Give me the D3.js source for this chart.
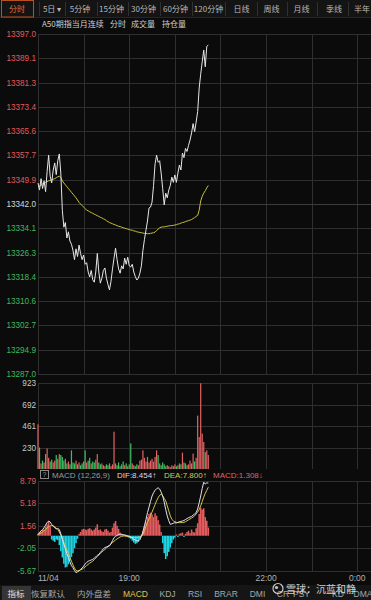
<!DOCTYPE html>
<html><head><meta charset="utf-8">
<script src="https://cdn.jsdelivr.net/npm/d3@7"></script>
<style>html,body{margin:0;padding:0;background:#0b0b0b;overflow:hidden}</style>
</head><body>
<svg id="c" width="371" height="600"></svg>
<script>
// ---------- DATA ----------
const minuteStep = 2; // each point = 2 minutes from 17:00
const price = [
13348.8,13346.5,13350.2,13347.0,13349.5,13346.0,13352.5,13357.8,13351.0,13348.8,
13353.0,13355.3,13351.5,13356.0,13358.2,13352.0,13340.0,13334.5,13336.0,13331.0,
13333.0,13330.0,13329.0,13327.0,13324.0,13327.5,13325.0,13328.7,13326.0,13324.0,
13325.5,13322.5,13323.0,13320.0,13318.4,13320.5,13317.5,13316.7,13320.0,13326.0,
13320.0,13316.4,13318.0,13320.5,13321.3,13318.0,13316.0,13314.2,13317.0,13321.0,
13324.5,13327.7,13324.0,13321.0,13319.6,13322.0,13321.0,13324.5,13322.5,13324.8,
13322.0,13321.6,13322.5,13320.0,13318.5,13317.4,13318.0,13319.6,13322.0,13327.0,
13330.5,13333.5,13336.5,13340.7,13341.0,13342.6,13348.0,13355.0,13357.8,13355.5,
13356.0,13352.0,13347.0,13341.7,13345.5,13344.0,13346.5,13348.0,13350.7,13349.0,
13351.4,13349.0,13352.0,13354.6,13353.0,13358.5,13357.0,13360.0,13359.0,13361.0,
13362.7,13365.0,13368.0,13365.4,13368.5,13371.9,13379.5,13384.0,13388.0,13391.8,
13386.4,13393.0,13393.4];
const avgPrice = [
13347.5,13347.8,13348.1,13348.5,13348.7,13349.0,13349.2,13349.5,13349.6,13349.8,
13350.0,13350.2,13350.5,13350.8,13351.0,13350.6,13349.5,13348.8,13348.2,13347.6,
13347.0,13346.4,13345.8,13345.2,13344.6,13344.0,13343.3,13342.5,13342.0,13341.5,
13341.0,13340.5,13340.0,13339.8,13339.5,13339.2,13339.0,13338.7,13338.5,13338.2,
13338.0,13337.7,13337.5,13337.2,13337.0,13336.6,13336.3,13336.0,13335.8,13335.6,
13335.4,13335.2,13335.0,13334.8,13334.7,13334.5,13334.3,13334.2,13334.0,13333.9,
13333.7,13333.6,13333.5,13333.3,13333.2,13333.0,13332.9,13332.8,13332.7,13332.6,
13332.5,13332.5,13332.4,13332.4,13332.5,13332.6,13332.7,13332.9,13333.4,13333.9,
13334.3,13334.5,13334.6,13334.6,13334.7,13334.8,13334.9,13335.0,13335.0,13335.1,
13335.2,13335.3,13335.5,13335.6,13335.8,13336.0,13336.1,13336.3,13336.5,13336.6,
13336.8,13337.0,13337.3,13337.6,13338.0,13338.3,13340.0,13343.0,13344.5,13345.5,
13346.3,13347.2,13348.0];
const volume = [
480,230,60,90,70,160,220,120,80,100,
70,90,150,110,160,150,130,90,110,60,
80,50,200,70,60,90,50,70,40,60,
80,200,70,90,120,60,80,70,100,160,
70,50,60,40,30,50,40,60,30,50,
400,60,40,70,30,50,80,40,60,30,
50,275,60,40,30,50,40,90,100,200,
120,80,130,70,90,110,80,130,200,150,
60,40,70,50,30,40,30,20,40,30,
50,30,40,60,50,175,70,60,40,50,
90,60,165,80,120,573,343,920,380,290,
180,200,150];
const dif = [
0.20,0.45,0.80,0.95,1.30,1.70,2.10,2.36,2.20,1.80,
1.50,1.30,1.10,1.15,1.00,0.30,-0.58,-1.40,-2.10,-2.90,
-3.50,-4.20,-4.80,-5.14,-5.60,-5.94,-5.80,-5.65,-5.40,-5.20,
-4.90,-4.55,-4.30,-4.10,-4.00,-3.90,-3.80,-3.60,-3.40,-3.15,
-3.00,-2.70,-2.40,-2.10,-1.90,-1.80,-1.70,-1.65,-1.30,-0.80,
-0.32,-0.10,0.05,0.20,0.25,0.20,0.15,0.10,0.05,0.00,
-0.10,-0.20,-0.35,-0.58,-0.70,-0.80,-0.85,-0.60,-0.10,0.60,
1.60,2.60,3.70,4.60,5.50,6.38,6.90,7.30,7.55,7.70,
7.50,7.00,6.38,5.40,4.20,3.17,2.40,1.83,1.90,2.00,
2.10,2.05,2.15,2.25,2.30,2.36,2.45,2.60,2.75,2.90,
3.00,3.10,3.30,3.50,3.70,4.30,5.30,6.38,7.60,8.60,
8.30,8.50,8.454];
const dea = [
0.20,0.30,0.45,0.60,0.80,1.00,1.25,1.45,1.60,1.67,
1.60,1.45,1.25,1.00,0.60,0.10,-0.50,-1.10,-1.70,-2.30,
-2.90,-3.50,-4.10,-4.70,-5.20,-5.60,-5.65,-5.60,-5.50,-5.40,
-5.20,-5.00,-4.80,-4.60,-4.40,-4.25,-4.10,-3.85,-3.60,-3.35,
-3.10,-2.85,-2.60,-2.40,-2.20,-2.00,-1.75,-1.50,-1.30,-1.10,
-0.90,-0.70,-0.50,-0.35,-0.20,-0.10,-0.05,-0.05,-0.10,-0.15,
-0.20,-0.25,-0.28,-0.30,-0.30,-0.28,-0.25,-0.20,-0.10,0.20,
0.80,1.50,2.10,2.70,3.20,3.80,4.40,5.00,5.60,6.10,
6.50,6.65,6.40,6.00,5.60,4.80,4.00,3.20,2.63,2.40,
2.25,2.15,2.10,2.10,2.10,2.10,2.15,2.25,2.40,2.55,
2.70,2.85,3.00,3.20,3.50,3.80,4.20,4.80,5.50,6.20,
6.80,7.30,7.80];
const macd = [
0.3,0.6,0.5,0.9,1.0,1.4,1.8,2.3,1.5,-0.6,
-0.8,-1.0,-0.6,-0.7,-1.5,-2.5,-3.5,-4.5,-5.1,-5.0,
-4.6,-4.0,-3.4,-2.8,-2.0,-1.2,-0.5,0.3,0.6,1.0,
1.1,1.0,0.9,1.1,1.2,1.0,0.8,1.0,1.3,1.83,
0.9,1.0,0.7,0.6,1.0,1.1,0.8,0.5,0.6,1.3,
2.0,2.36,1.6,1.1,0.5,0.3,0.15,0.2,0.1,-0.2,
-0.3,-0.5,-0.8,-1.1,-1.3,-1.2,-1.0,-0.6,0.2,0.8,
1.6,2.2,3.0,3.5,3.7,3.4,3.0,3.6,3.2,2.5,
1.8,0.6,-1.2,-2.8,-3.75,-3.3,-2.6,-1.9,-1.2,-0.6,
-0.3,0.2,-0.2,0.3,0.4,0.5,-0.2,0.3,0.6,0.8,
0.4,1.0,0.6,0.5,1.2,2.0,3.5,4.5,4.2,4.4,
3.0,2.4,1.308];
const priceTicks = [13397.0,13389.1,13381.3,13373.4,13365.6,13357.7,13349.9,13342.0,13334.1,13326.3,13318.4,13310.6,13302.7,13294.9,13287.0];
const prevClose = 13342.0;
const volTicks = [923, 692, 461, 230];
const macdTicks = [8.79, 5.18, 1.56, -2.05, -5.67];
const timeTicks = [{min:0,label:"11/04"},{min:120,label:"19:00"},{min:300,label:"22:00"},{min:420,label:"0:00"}];
const hourLines = [0,60,120,180,240,300,360,420];
const topTabs = ["分时","5日 ▾","5分钟","15分钟","30分钟","60分钟","120分钟","日线","周线","月线","季线","半年"];
const subTitle = ["A50期指当月连续","分时","成交量","持仓量"];
const bottomTabs = ["指标","恢复默认","内外盘差","MACD","KDJ","RSI","BRAR","DMI","CR","PSY","KD","DMA"];
const macdHeader = {name:"MACD (12,26,9)", dif:"DIF:8.454↑", dea:"DEA:7.800↑", macd:"MACD:1.308↓"};

// ---------- DRAW ----------
const svg = d3.select("#c");
const W = 371, H = 600, L = 38;
const NUM = "'Liberation Sans', Arial, sans-serif";
const CJK = "'Noto Sans CJK SC', sans-serif";
const RED = "#e05a5a", GREEN = "#3fb860", GRID = "#2f2f2f";

svg.append("rect").attr("width",W).attr("height",H).attr("fill","#0b0b0b");

const x = d3.scaleLinear().domain([0, 438]).range([L, W]);
const t = i => i * minuteStep;
const yP = d3.scaleLinear().domain([13287, 13397]).range([374, 34]);
const yV = d3.scaleLinear().domain([0, 923]).range([469, 383]);
const yM = d3.scaleLinear().domain([-5.67, 8.79]).range([571, 481]);

// top tab bar
svg.append("rect").attr("x",0).attr("y",0).attr("width",W).attr("height",18).attr("fill","#141414");
svg.append("line").attr("x1",0).attr("x2",W).attr("y1",17.5).attr("y2",17.5).attr("stroke","#262626");
const tabCenters = [17,52,80,111.5,143.5,175.5,208.5,241.5,271.5,301.5,334,362];
const tabSeps = [39,65,97,128,160,192,225,257,287,317,348];
svg.selectAll(".sep").data(tabSeps).join("line")
  .attr("x1",d=>d+0.5).attr("x2",d=>d+0.5).attr("y1",2).attr("y2",16).attr("stroke","#303030");
svg.append("rect").attr("x",1.5).attr("y",0.5).attr("width",32).attr("height",16.5)
  .attr("fill","none").attr("stroke","#b8501f");
svg.selectAll(".tab").data(topTabs).join("text")
  .attr("x",(d,i)=>tabCenters[i]).attr("y",11.5).attr("text-anchor","middle")
  .attr("font-family",CJK).attr("font-size",8)
  .attr("fill",(d,i)=>i===0?"#e0703a":"#b8b8b8").text(d=>d);

// subtitle
const subX = [42,110,131,162];
svg.selectAll(".sub").data(subTitle).join("text")
  .attr("x",(d,i)=>subX[i]).attr("y",27).attr("font-family",CJK).attr("font-size",8)
  .attr("fill","#d0d0d0").text(d=>d);

// vertical gridlines across panels
const vg = svg.append("g");
[[34,374],[383,469],[481,571]].forEach(([a,b])=>{
  vg.selectAll(null).data(hourLines).join("line")
    .attr("x1",d=>Math.round(x(d))+0.5).attr("x2",d=>Math.round(x(d))+0.5)
    .attr("y1",a).attr("y2",b).attr("stroke",GRID);
});

// price panel gridlines and labels
svg.selectAll(".pg").data(priceTicks).join("line")
  .attr("x1",L).attr("x2",W).attr("y1",d=>Math.round(yP(d))+0.5).attr("y2",d=>Math.round(yP(d))+0.5)
  .attr("stroke",d=>d===prevClose?"#3c3c3c":GRID);
svg.selectAll(".pl").data(priceTicks).join("text")
  .attr("x",36).attr("y",d=>yP(d)+3).attr("text-anchor","end")
  .attr("font-family",NUM).attr("font-size",8.2)
  .attr("fill",d=>d>prevClose?RED:(d<prevClose?GREEN:"#d8d8d8"))
  .text(d=>d.toFixed(1));

// average line
svg.append("path").datum(avgPrice)
  .attr("d",d3.line().x((d,i)=>x(t(i))).y(d=>yP(d)))
  .attr("fill","none").attr("stroke","#c9bf3a").attr("stroke-width",1);
// price line
svg.append("path").datum(price)
  .attr("d",d3.line().x((d,i)=>x(t(i))).y(d=>yP(d)))
  .attr("fill","none").attr("stroke","#e6e6e6").attr("stroke-width",1);

// volume panel
svg.selectAll(".vg").data(volTicks).join("line")
  .attr("x1",L).attr("x2",W).attr("y1",d=>Math.round(yV(d))+0.5).attr("y2",d=>Math.round(yV(d))+0.5)
  .attr("stroke",GRID);
svg.selectAll(".vl").data(volTicks).join("text")
  .attr("x",36).attr("y",d=>yV(d)+3).attr("text-anchor","end")
  .attr("font-family",NUM).attr("font-size",8.2).attr("fill","#c8c8c8").text(d=>d);
const bw = x(minuteStep) - x(0);
svg.selectAll(".vb").data(volume).join("rect")
  .attr("x",(d,i)=>x(t(i))-bw*0.4).attr("width",bw*0.8)
  .attr("y",d=>yV(d)).attr("height",d=>yV(0)-yV(d))
  .attr("fill",(d,i)=> (i===0 || price[i]>=price[i-1]) ? "#e06262" : "#3cc060");

// MACD header
svg.append("rect").attr("x",40.5).attr("y",470.5).attr("width",8).attr("height",8)
  .attr("fill","none").attr("stroke","#8a8a8a");
svg.append("text").attr("x",44.5).attr("y",477).attr("text-anchor","middle")
  .attr("font-family",NUM).attr("font-size",7).attr("fill","#9a9a9a").text("?");
const hdr = [[macdHeader.name,52,"#9a9a9a"],[macdHeader.dif,117,"#dcd6f4"],[macdHeader.dea,164,"#d9c84a"],[macdHeader.macd,213,"#e06262"]];
svg.selectAll(".mh").data(hdr).join("text")
  .attr("x",d=>d[1]).attr("y",478).attr("font-family",NUM).attr("font-size",8)
  .attr("fill",d=>d[2]).text(d=>d[0]);

// MACD panel
svg.selectAll(".mg").data(macdTicks).join("line")
  .attr("x1",L).attr("x2",W).attr("y1",d=>Math.round(yM(d))+0.5).attr("y2",d=>Math.round(yM(d))+0.5)
  .attr("stroke",GRID);
svg.selectAll(".ml").data(macdTicks).join("text")
  .attr("x",36).attr("y",d=>yM(d)+3).attr("text-anchor","end")
  .attr("font-family",NUM).attr("font-size",8.2)
  .attr("fill",d=>d>0?RED:GREEN).text(d=>d.toFixed(2));
svg.selectAll(".mb").data(macd).join("rect")
  .attr("x",(d,i)=>x(t(i))-bw*0.5).attr("width",bw)
  .attr("y",d=>Math.min(yM(d),yM(0))).attr("height",d=>Math.abs(yM(d)-yM(0)))
  .attr("fill",d=>d>=0?"#e45c5e":"#1fd3e2");
svg.append("path").datum(dea)
  .attr("d",d3.line().x((d,i)=>x(t(i))).y(d=>yM(d)))
  .attr("fill","none").attr("stroke","#d4c64a").attr("stroke-width",1);
svg.append("path").datum(dif)
  .attr("d",d3.line().x((d,i)=>x(t(i))).y(d=>yM(d)))
  .attr("fill","none").attr("stroke","#e4e0f4").attr("stroke-width",1);

// time axis
svg.selectAll(".tl").data(timeTicks).join("text")
  .attr("x",d=>x(d.min)).attr("y",581)
  .attr("text-anchor",(d,i)=>i===0?"start":"middle")
  .attr("font-family",NUM).attr("font-size",8.5).attr("fill","#b0b0b0").text(d=>d.label);

// bottom bar
svg.append("rect").attr("x",0).attr("y",585).attr("width",W).attr("height",15).attr("fill","#151515");
svg.append("rect").attr("x",2).attr("y",586).attr("width",29).attr("height",14).attr("fill","#353535");
const botCenters = [16,48,94,135.5,167.5,195,226,257.5,283,301.5,338,363];
svg.selectAll(".bt").data(bottomTabs).join("text")
  .attr("x",(d,i)=>botCenters[i]).attr("y",597).attr("text-anchor","middle")
  .attr("font-family",(d)=>/[A-Z]/.test(d)?NUM:CJK).attr("font-size",8.5)
  .attr("fill",d=>d==="MACD"?"#e8c04a":(d==="指标"?"#e0e0e0":"#a8a8a8")).text(d=>d);

// watermark
const wm = svg.append("g").attr("opacity",0.85);
wm.append("circle").attr("cx",278).attr("cy",588.5).attr("r",5).attr("fill","none").attr("stroke","#e8e8e8").attr("stroke-width",1.2);
wm.append("circle").attr("cx",276.5).attr("cy",587.5).attr("r",1.6).attr("fill","#e8e8e8");
wm.append("text").attr("x",286).attr("y",592.5).attr("font-family",CJK).attr("font-size",10)
  .attr("fill","#f0f0f0").text("雪球：沉蓝和静");
</script>
</body></html>
